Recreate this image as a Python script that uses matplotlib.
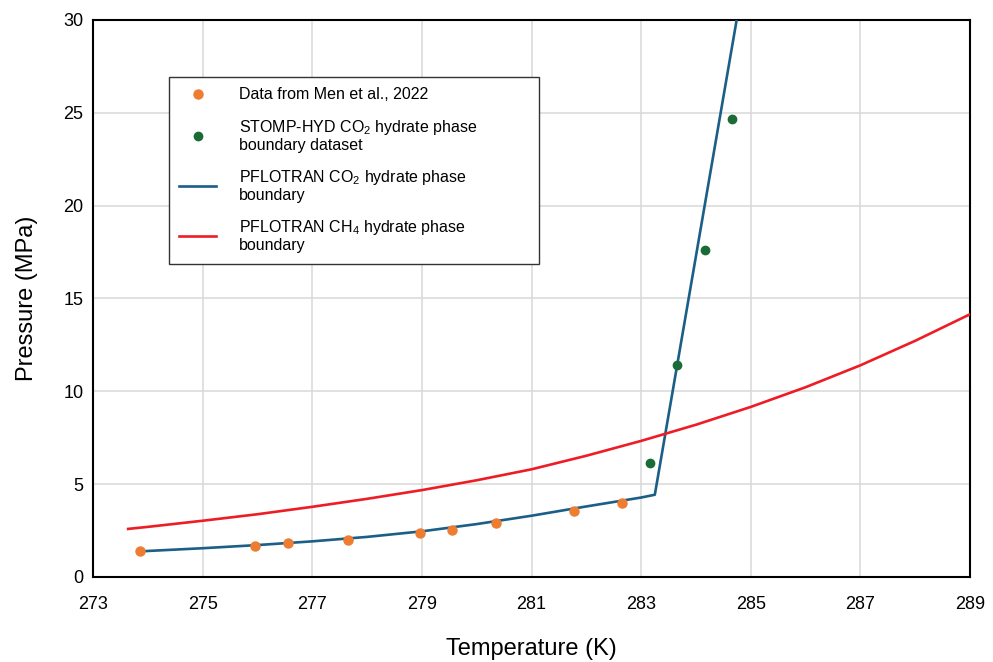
import matplotlib
matplotlib.use("Agg")
import matplotlib.pyplot as plt

plt.rcParams['font.family'] = ['Liberation Sans', 'DejaVu Sans']
plt.rcParams['mathtext.fontset'] = 'custom'
plt.rcParams['mathtext.rm'] = 'Liberation Sans'
plt.rcParams['mathtext.it'] = 'Liberation Sans:italic'

# measured data (Men et al., 2022)
men_T = [273.85, 275.96, 276.56, 277.65, 278.96, 279.55, 280.36, 281.77, 282.66]
men_P = [1.38, 1.67, 1.85, 2.00, 2.39, 2.55, 2.89, 3.55, 3.96]

# STOMP-HYD CO2 phase boundary points
stomp_T = [283.16, 283.66, 284.17, 284.66]
stomp_P = [6.14, 11.42, 17.63, 24.68]

# PFLOTRAN CO2 hydrate boundary
co2_T = [273.85, 275.0, 276.0, 277.0, 278.0, 279.0, 280.0, 281.0, 282.0, 283.0, 283.25, 285.0]
co2_P = [1.38, 1.55, 1.72, 1.92, 2.16, 2.46, 2.85, 3.30, 3.80, 4.28, 4.43, 34.4]

# PFLOTRAN CH4 hydrate boundary
ch4_T = [273.64, 274, 275, 276, 277, 278, 279, 280, 281, 282, 283, 284, 285, 286, 287, 288, 289]
ch4_P = [2.59, 2.70, 3.03, 3.38, 3.78, 4.21, 4.68, 5.21, 5.80, 6.53, 7.33, 8.20, 9.16, 10.22, 11.40, 12.72, 14.15]

fig = plt.figure(figsize=(9.93, 6.62), dpi=100)
ax = fig.add_axes([0.0937, 0.1284, 0.8831, 0.8414])

ax.plot(men_T, men_P, 'o', color='#ED7D31', markersize=6.5, zorder=4,
        label='Data from Men et al., 2022')
ax.plot(stomp_T, stomp_P, 'o', color='#1A6B35', markersize=6, zorder=4,
        label='STOMP-HYD CO$_2$ hydrate phase\nboundary dataset')
ax.plot(co2_T, co2_P, '-', color='#1B5E86', lw=1.9, zorder=3,
        label='PFLOTRAN CO$_2$ hydrate phase\nboundary')
ax.plot(ch4_T, ch4_P, '-', color='#EE1C25', lw=1.9, zorder=3,
        label='PFLOTRAN CH$_4$ hydrate phase\nboundary')

ax.set_xlim(273, 289)
ax.set_ylim(0, 30)
ax.set_xticks(range(273, 290, 2))
ax.set_yticks(range(0, 31, 5))
ax.grid(True, color='#d9d9d9', lw=1.1)
ax.set_axisbelow(True)
ax.tick_params(axis='both', length=0, labelsize=13)
ax.tick_params(axis='x', pad=14)
ax.tick_params(axis='y', pad=7)
for s in ax.spines.values():
    s.set_color('black')
    s.set_linewidth(1.5)

ax.set_xlabel('Temperature (K)', fontsize=17, labelpad=18)
ax.set_ylabel('Pressure (MPa)', fontsize=17, labelpad=18)

leg = ax.legend(loc='upper left', bbox_to_anchor=(0.0867, 0.5637, 0.4219, 0.334),
                mode='expand', borderaxespad=0, fontsize=11.5, frameon=True,
                fancybox=False, edgecolor='#333333', framealpha=1,
                borderpad=0.65, labelspacing=0.95, handlelength=2.3,
                handletextpad=1.45)
leg.get_frame().set_linewidth(1.0)
for t in leg.get_texts():
    t.set_linespacing(1.1)

fig.savefig('out.png', dpi=100)
